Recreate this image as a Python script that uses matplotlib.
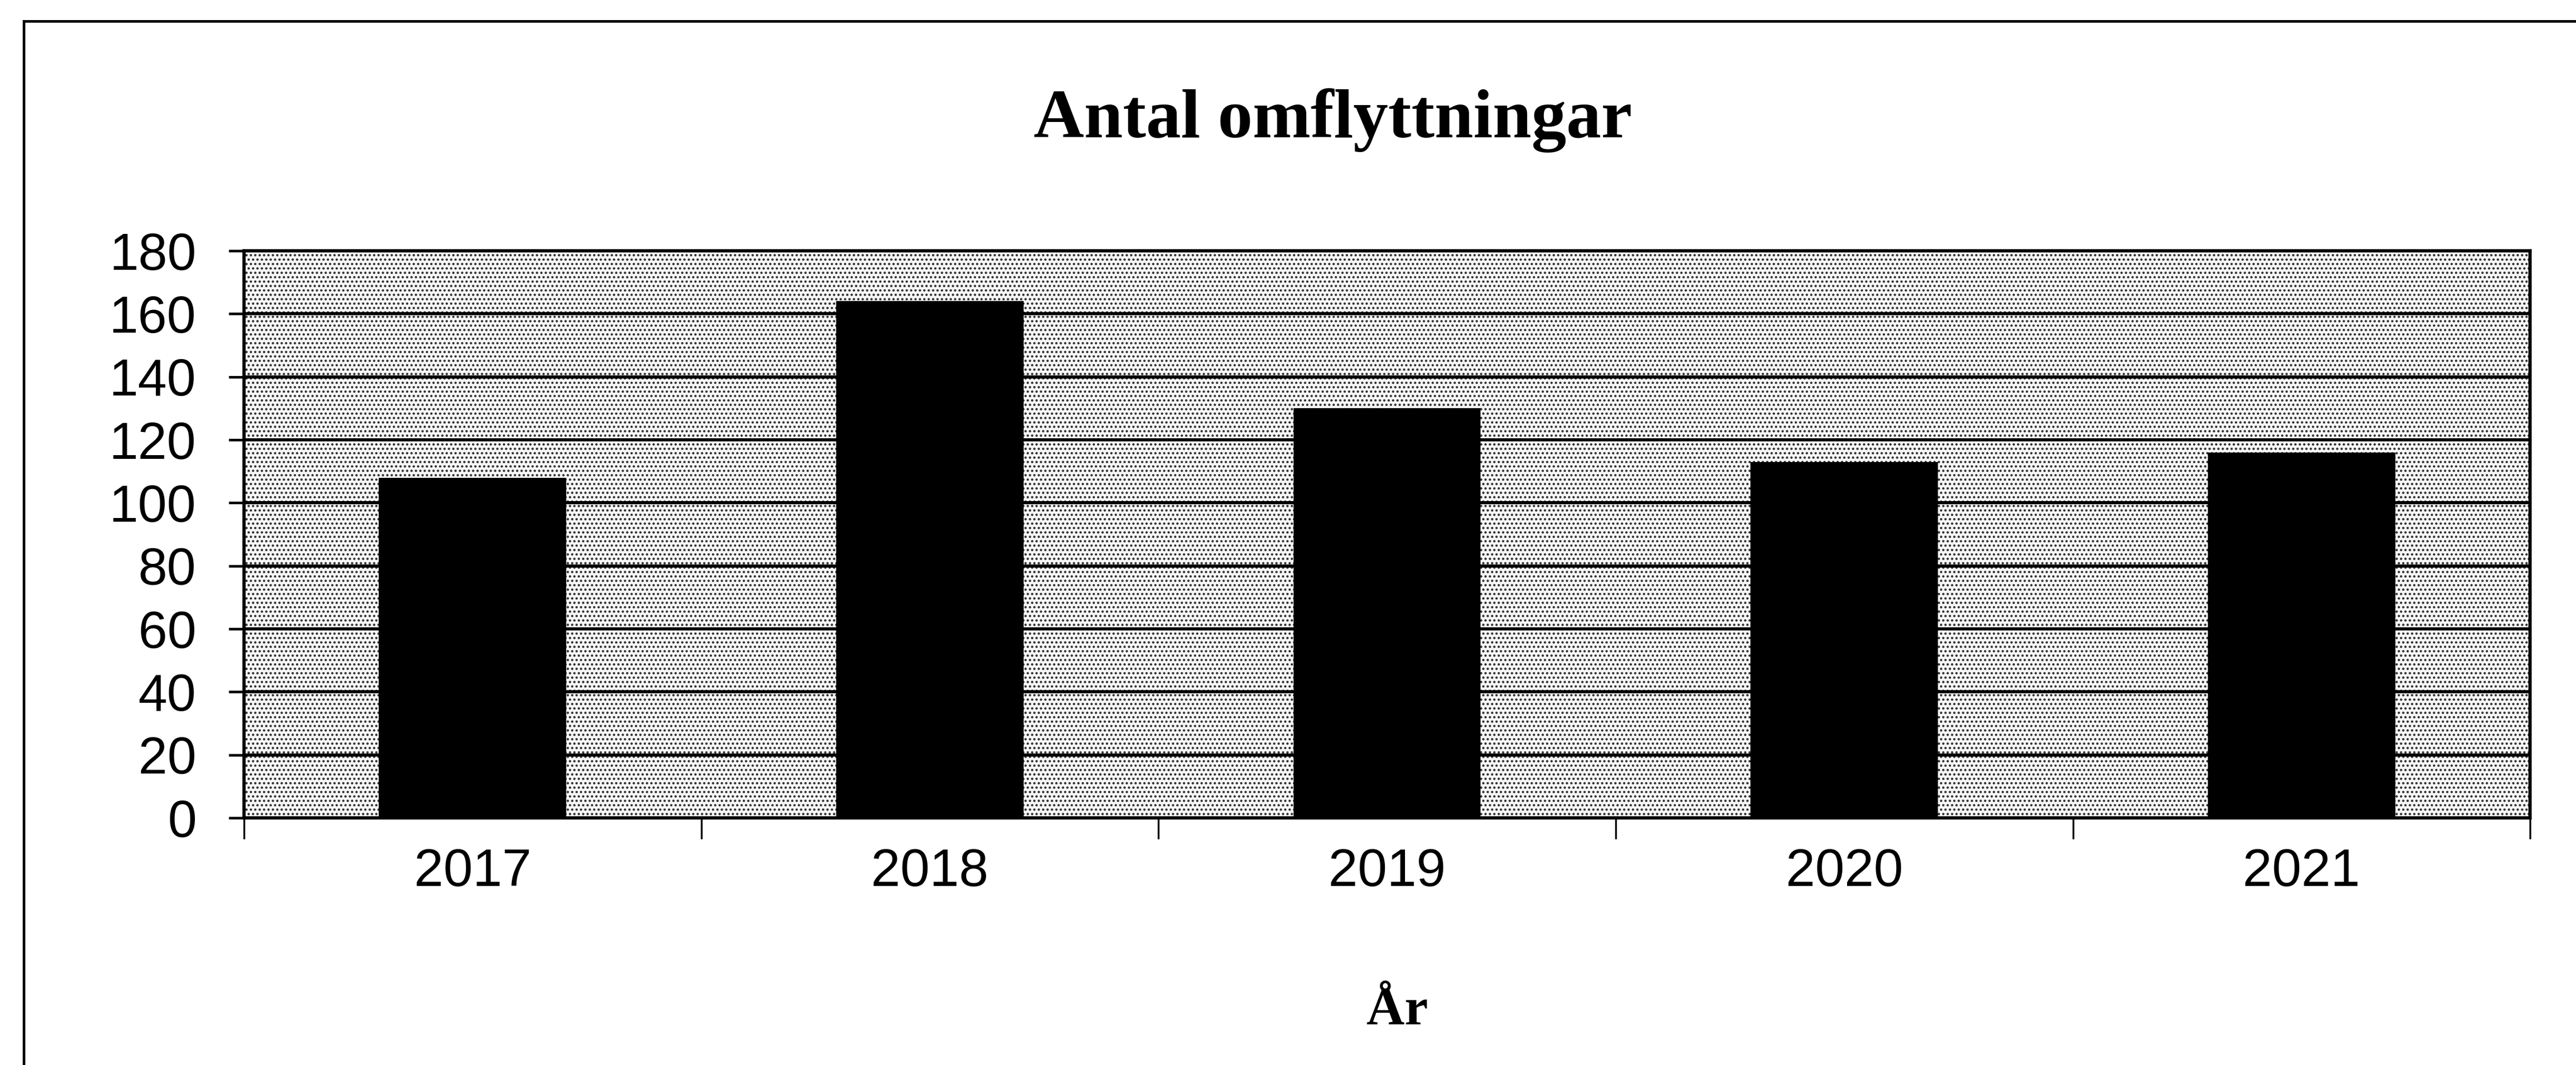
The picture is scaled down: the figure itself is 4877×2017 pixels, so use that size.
import numpy as np
import matplotlib
matplotlib.use("Agg")
import matplotlib.pyplot as plt
from matplotlib.patches import Rectangle
from matplotlib.lines import Line2D

# data
years = ["2017", "2018", "2019", "2020", "2021"]
moves = [108, 164, 130, 113, 116]
y_ticks = [0, 20, 40, 60, 80, 100, 120, 140, 160, 180]

title = "Antal omflyttningar"
xlabel = "År"

plt.rcParams["font.family"] = ["Liberation Sans", "DejaVu Sans"]
plt.rcParams["hatch.linewidth"] = 2.0

fig = plt.figure(figsize=(48.77, 20.17), dpi=100)
ax = fig.add_axes([0.0947, 0.232, 0.9822 - 0.0947, 0.7645 - 0.232])

x = np.arange(len(years))
ax.bar(x, moves, width=0.41, color="black", zorder=3)

ax.set_xlim(-0.5, len(years) - 0.5)
ax.set_ylim(0, 180)

# stippled grey background of the plot area
bg = Rectangle((0, 0), 1, 1, transform=ax.transAxes, facecolor="#f6f6f6",
               edgecolor="#303030", hatch="..", linewidth=0, zorder=0.1)
ax.add_patch(bg)
ax.set_facecolor("white")

# gridlines
ax.set_yticks(y_ticks)
ax.yaxis.grid(True, color="black", linewidth=4.3, zorder=1)
ax.set_axisbelow(True)

# x ticks at category borders, labels in the middle
ax.set_xticks(np.arange(-0.5, len(years), 1.0))
ax.set_xticklabels([])
ax.set_xticks(x, minor=True)
ax.set_xticklabels(years, minor=True)
ax.tick_params(axis="x", which="major", direction="out", length=29, width=2.5, color="black")
ax.tick_params(axis="x", which="minor", length=0, pad=40, labelsize=72)
ax.tick_params(axis="y", direction="out", length=21, width=3.5, pad=44, labelsize=71)

for s in ax.spines.values():
    s.set_linewidth(4.5)
    s.set_color("black")
    s.set_zorder(4)

# titles
fig.text(0.5175, 0.871, title, ha="center", va="baseline",
         fontsize=95, fontweight="bold", family=["Liberation Serif", "DejaVu Serif"])
ax.set_xlabel(xlabel, fontsize=72, fontweight="bold",
              family=["Liberation Serif", "DejaVu Serif"])
ax.xaxis.label.set_va("baseline")
ax.xaxis.set_label_coords(0.5044, -0.364)

# chart border (only left and top visible in the scan)
fig.add_artist(Line2D([45 / 4877, 45 / 4877], [0, 1 - 40 / 2017],
                      transform=fig.transFigure, color="black", linewidth=3.6))
fig.add_artist(Line2D([45 / 4877, 1], [1 - 40 / 2017, 1 - 40 / 2017],
                      transform=fig.transFigure, color="black", linewidth=3.6))

fig.savefig("out.png", dpi=100, facecolor="white")
